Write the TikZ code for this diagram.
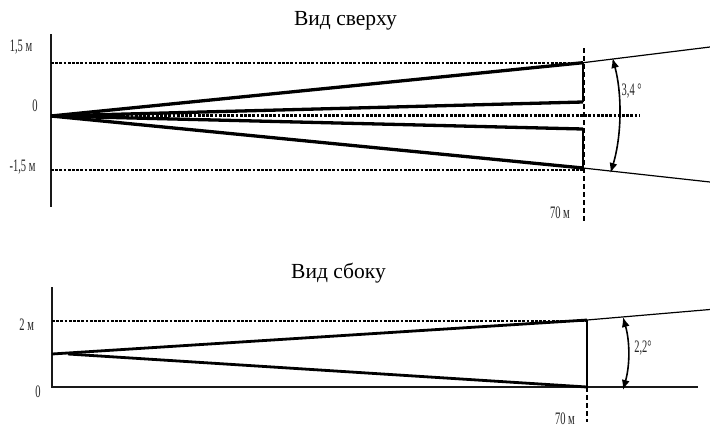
\documentclass[tikz,border=0pt]{standalone}
\usepackage{fontspec}
\setmainfont{Liberation Serif}
\usetikzlibrary{arrows.meta}
\tikzset{
  ttl/.style={font=\fontsize{21.5}{24}\selectfont,inner sep=0pt},
  lbl/.style={font=\fontsize{17.5}{20}\selectfont,xscale=0.6,inner sep=0pt,black!85},
  axisline/.style={line width=1.6pt,black!90},
  beam/.style={line width=3.3pt},
  beamthin/.style={line width=2.8pt},
  guide/.style={line width=2.3pt,dash pattern=on 2.8pt off 1.4pt},
  vguide/.style={line width=2pt,dash pattern=on 5pt off 3pt},
  ray/.style={line width=1.2pt},
  angarrow/.style={line width=1.6pt,{Latex[length=10pt,width=8pt]}-{Latex[length=10pt,width=8pt]}}
}
\begin{document}
\begin{tikzpicture}[x=1pt,y=-1pt]
\useasboundingbox (0,0) rectangle (710,429);
% top view
\coordinate (a1) at (51,34);
\coordinate (a2) at (51,207);
\coordinate (o) at (51,116);
\coordinate (g1l) at (51,63);
\coordinate (g1r) at (583,63);
\coordinate (g2l) at (51,170);
\coordinate (g2r) at (583,170);
\coordinate (g0l) at (118,115.5);
\coordinate (g0r) at (640,115.5);
\coordinate (b1) at (583,62.7);
\coordinate (b2) at (583,102);
\coordinate (b3) at (583,129);
\coordinate (b4) at (583,168);
\coordinate (v1) at (583.7,48);
\coordinate (v2) at (583.7,223);
\coordinate (r1) at (710,47);
\coordinate (r2) at (710,182);
\coordinate (c1) at (612.5,58);
\coordinate (c2) at (610.5,173);
\draw[axisline] (a1) -- (a2);
\draw[guide] (g1l) -- (g1r);
\draw[guide] (g2l) -- (g2r);
\draw[beam] (o) -- (b1);
\draw[beam] (o) -- (b2);
\draw[beam] (o) -- (b3);
\draw[beam] (o) -- (b4);
\draw[guide] (g0l) -- (g0r);
\draw[line width=1.5pt] (b1) -- (b2) (b3) -- (b4);
\draw[vguide] (v1) -- (v2);
\draw[ray] (b1) -- (r1);
\draw[ray] (b4) -- (r2);
\draw[angarrow] (c1) .. controls (622,93) and (622,135) .. (c2);
\node[ttl] (t1) at (345.5,21) {Вид сверху};
\node[lbl] (l1) at (21,47.5) {1,5 м};
\node[lbl] (l2) at (35,106) {0};
\node[lbl] (l3) at (22.5,167) {-1,5 м};
\node[lbl] (l4) at (560,213) {70 м};
\node[lbl] (l5) at (631.7,91.5) {3,4 °};
% side view
\coordinate (s1) at (52,287);
\coordinate (s0) at (52,387);
\coordinate (sx) at (698,387);
\coordinate (sg1) at (52,320.7);
\coordinate (sg2) at (587,320.7);
\coordinate (sa) at (52,354);
\coordinate (sb) at (68,354);
\coordinate (st) at (587,320);
\coordinate (sd) at (587,387);
\coordinate (sv) at (587,422);
\coordinate (sr) at (710,309.5);
\coordinate (d1) at (623,317);
\coordinate (d2) at (623,390);
\draw[axisline] (s1) -- (s0) -- (sx);
\draw[guide] (sg1) -- (sg2);
\draw[beamthin] (sa) -- (st);
\draw[beamthin] (sb) -- (sd);
\draw[line width=2.4pt] (st) -- (sd);
\draw[vguide] (sd) -- (sv);
\draw[ray] (st) -- (sr);
\draw[angarrow] (d1) .. controls (630,342) and (630,365) .. (d2);
\node[ttl] (t2) at (338.5,273) {Вид сбоку};
\node[lbl] (m1) at (26.7,325) {2 м};
\node[lbl] (m2) at (38,391.7) {0};
\node[lbl] (m3) at (565,418.5) {70 м};
\node[lbl] (m4) at (643,347.7) {2,2°};
\end{tikzpicture}
\end{document}
